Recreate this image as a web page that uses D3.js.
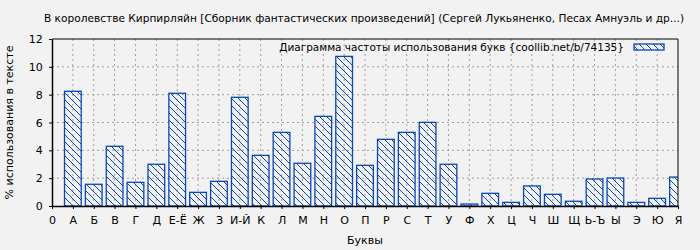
<!DOCTYPE html>
<html>
<head>
<meta charset="utf-8">
<script src="https://cdn.jsdelivr.net/npm/d3@7"></script>
<style>
  body { margin: 0; background: #f2f2f2; }
  text { font-family: "DejaVu Sans", sans-serif; }
</style>
</head>
<body>
<svg id="chart" width="700" height="250"></svg>
<script>
const letters = ["А","Б","В","Г","Д","Е-Ё","Ж","З","И-Й","К","Л","М","Н","О","П","Р","С","Т","У","Ф","Х","Ц","Ч","Ш","Щ","Ь-Ъ","Ы","Э","Ю","Я"];
const percents = [8.24,1.56,4.29,1.70,3.0,8.1,0.98,1.77,7.81,3.64,5.29,3.07,6.44,10.75,2.92,4.79,5.29,6.01,3.0,0.14,0.91,0.26,1.44,0.84,0.34,1.94,2.01,0.26,0.55,2.08];
const yTicks = [0,2,4,6,8,10,12];

const title = "В королевстве Кирпирляйн [Сборник фантастических произведений] (Сергей Лукьяненко, Песах Амнуэль и др...)";
const legendText = "Диаграмма частоты использования букв {coollib.net/b/74135}";

const margin = {left: 52, right: 22, top: 39, bottom: 44};
const width = 700, height = 250;
const blue = "#0a46b4";

const svg = d3.select("#chart");
svg.append("rect").attr("width", width).attr("height", height).attr("fill", "#f2f2f2");

// hatch pattern for the bars
const defs = svg.append("defs");
const pat = defs.append("pattern")
    .attr("id", "hatch")
    .attr("patternUnits", "userSpaceOnUse")
    .attr("width", 7).attr("height", 7);
pat.append("path").attr("d", "M-1,-1 L8,8 M-8,-1 L1,8 M6,-1 L15,8")
    .attr("stroke", blue).attr("stroke-width", 1);

defs.append("clipPath").attr("id", "plotclip")
  .append("rect")
    .attr("x", margin.left).attr("y", margin.top)
    .attr("width", width - margin.left - margin.right)
    .attr("height", height - margin.top - margin.bottom);

const x = d3.scaleLinear().domain([0, letters.length]).range([margin.left, width - margin.right]);
const y = d3.scaleLinear().domain([0, 12]).range([height - margin.bottom, margin.top]);

const step = x(1) - x(0);
const barW = step * 0.8;

// grid
const grid = svg.append("g").attr("stroke", "#a0a0a0").attr("stroke-dasharray", "2,3");
grid.selectAll("line.v").data(d3.range(1, letters.length)).join("line")
    .attr("x1", d => x(d)).attr("x2", d => x(d))
    .attr("y1", y(0)).attr("y2", y(12));
grid.selectAll("line.h").data(yTicks.slice(1, -1)).join("line")
    .attr("x1", x(0)).attr("x2", x(letters.length))
    .attr("y1", d => y(d)).attr("y2", d => y(d));

// bars
svg.append("g").attr("clip-path", "url(#plotclip)")
  .selectAll("rect").data(percents).join("rect")
    .attr("x", (d, i) => x(i + 1) - barW / 2)
    .attr("y", d => y(d))
    .attr("width", barW)
    .attr("height", d => y(0) - y(d))
    .attr("fill", "url(#hatch)")
    .attr("stroke", blue).attr("stroke-width", 1.3);

// frame
svg.append("path")
    .attr("d", `M${x(0)},${y(12)} H${x(letters.length)} V${y(0)}`)
    .attr("fill", "none").attr("stroke", "#000");

// axes
const xAxis = d3.axisBottom(x)
    .tickValues(d3.range(0, letters.length + 1))
    .tickFormat(d => d === 0 ? "0" : letters[d - 1])
    .tickSizeInner(3).tickSizeOuter(0);
const gx = svg.append("g").attr("transform", `translate(0,${y(0)})`).call(xAxis);
gx.select(".domain").attr("stroke-width", 1.5);
gx.selectAll("text").attr("font-size", 11).attr("fill", "#000").attr("dy", "1.1em");

const yAxis = d3.axisLeft(y).tickValues(yTicks).tickSizeInner(3).tickSizeOuter(0);
const gy = svg.append("g").attr("transform", `translate(${x(0)},0)`).call(yAxis);
gy.select(".domain").attr("stroke-width", 1.5);
gy.selectAll("text").attr("font-size", 11).attr("fill", "#000").attr("dx", "-0.3em");

// titles
svg.append("text").attr("x", (x(0) + x(letters.length)) / 2 - 1).attr("y", 22)
    .attr("text-anchor", "middle").attr("font-size", 10.6).text(title);

svg.append("text").attr("x", (x(0) + x(letters.length)) / 2).attr("y", 244)
    .attr("text-anchor", "middle").attr("font-size", 11).text("Буквы");

svg.append("text")
    .attr("transform", `translate(13,${(y(0) + y(12)) / 2}) rotate(-90)`)
    .attr("text-anchor", "middle").attr("font-size", 11)
    .text("% использования в тексте");

// legend
svg.append("text").attr("x", 624).attr("y", 51)
    .attr("text-anchor", "end").attr("font-size", 10.5).text(legendText);
svg.append("rect").attr("x", 634).attr("y", 44).attr("width", 30).attr("height", 6)
    .attr("fill", "url(#hatch)").attr("stroke", blue).attr("stroke-width", 1.3);
</script>
</body>
</html>
